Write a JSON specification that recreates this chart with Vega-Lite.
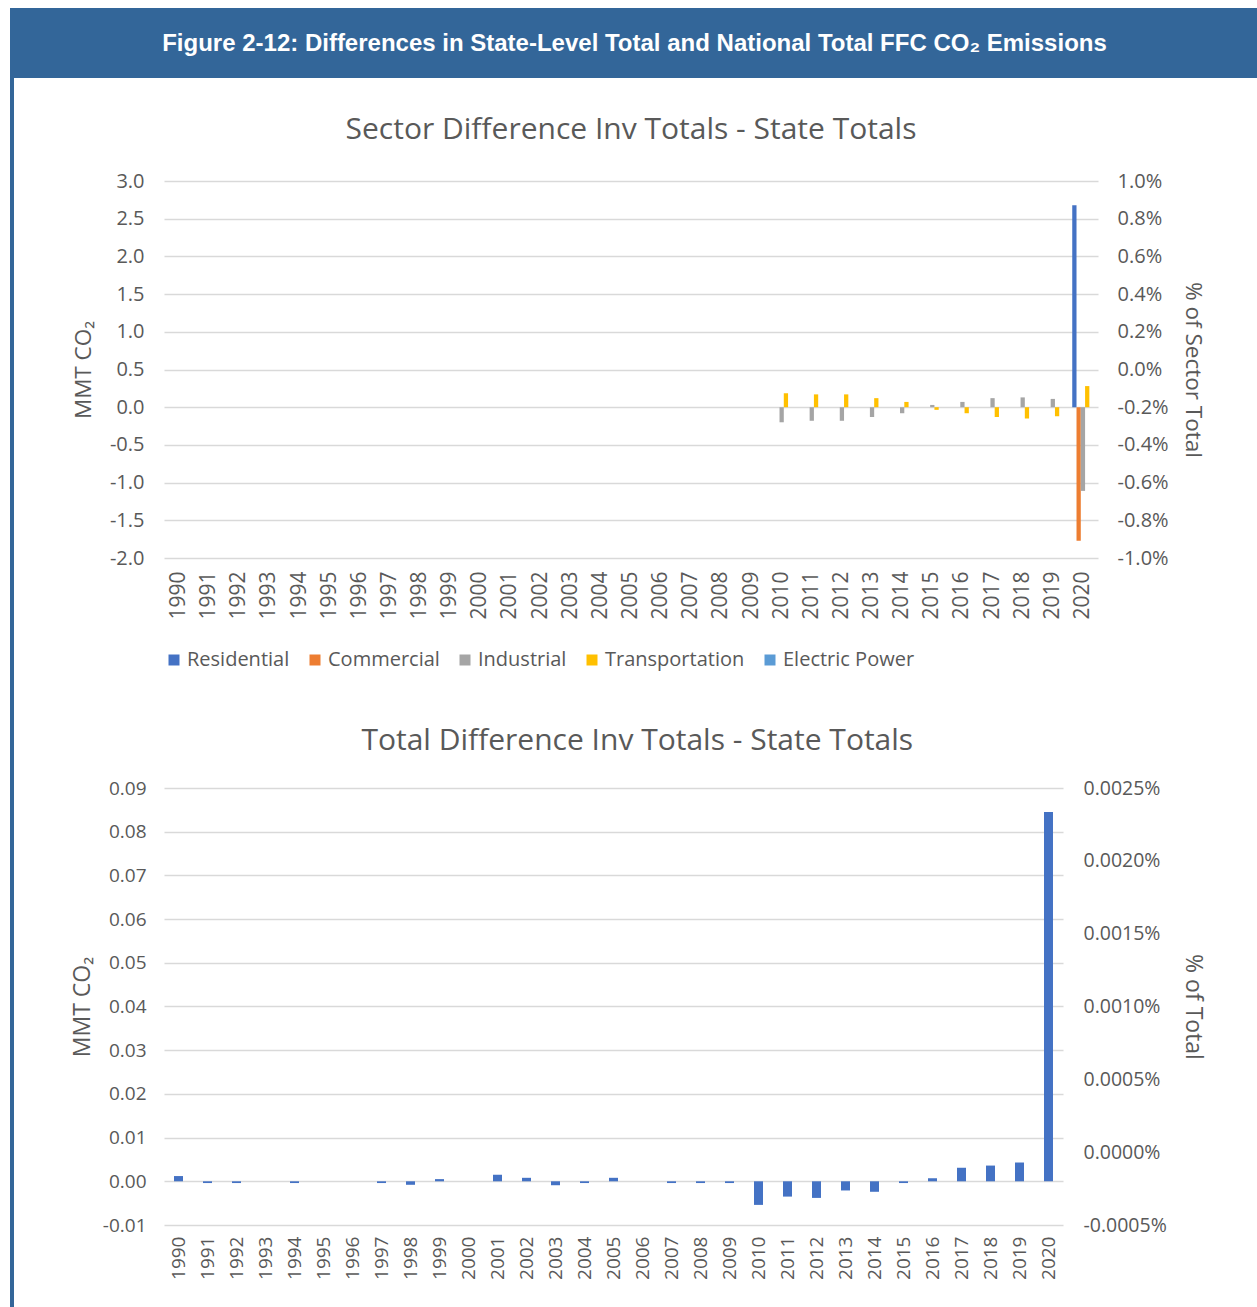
{
  "$schema": "https://vega.github.io/schema/vega-lite/v6.json",
  "padding": {"left": 10, "top": 8, "right": 0, "bottom": 0},
  "background": "white",
  "datasets": {
    "banner": [{"t": "Figure 2-12: Differences in State-Level Total and National Total FFC CO₂ Emissions"}],
    "sector": [
      {"year": 2010, "sector": "Industrial", "value": -0.20},
      {"year": 2010, "sector": "Transportation", "value": 0.185},
      {"year": 2011, "sector": "Industrial", "value": -0.18},
      {"year": 2011, "sector": "Transportation", "value": 0.17},
      {"year": 2012, "sector": "Industrial", "value": -0.18},
      {"year": 2012, "sector": "Transportation", "value": 0.17},
      {"year": 2013, "sector": "Industrial", "value": -0.13},
      {"year": 2013, "sector": "Transportation", "value": 0.12},
      {"year": 2014, "sector": "Industrial", "value": -0.08},
      {"year": 2014, "sector": "Transportation", "value": 0.07},
      {"year": 2015, "sector": "Industrial", "value": 0.03},
      {"year": 2015, "sector": "Transportation", "value": -0.035},
      {"year": 2016, "sector": "Industrial", "value": 0.07},
      {"year": 2016, "sector": "Transportation", "value": -0.08},
      {"year": 2017, "sector": "Industrial", "value": 0.12},
      {"year": 2017, "sector": "Transportation", "value": -0.13},
      {"year": 2018, "sector": "Industrial", "value": 0.13},
      {"year": 2018, "sector": "Transportation", "value": -0.15},
      {"year": 2019, "sector": "Industrial", "value": 0.11},
      {"year": 2019, "sector": "Transportation", "value": -0.12},
      {"year": 2020, "sector": "Residential", "value": 2.68},
      {"year": 2020, "sector": "Commercial", "value": -1.77},
      {"year": 2020, "sector": "Industrial", "value": -1.11},
      {"year": 2020, "sector": "Transportation", "value": 0.28},
      {"year": 2020, "sector": "Electric Power", "value": 0}
    ],
    "total": [
      {"year": 1990, "value": 0.0012}, {"year": 1991, "value": -0.0004}, {"year": 1992, "value": -0.0004},
      {"year": 1993, "value": 0}, {"year": 1994, "value": -0.0004}, {"year": 1995, "value": 0},
      {"year": 1996, "value": 0}, {"year": 1997, "value": -0.0004}, {"year": 1998, "value": -0.0008},
      {"year": 1999, "value": 0.0005}, {"year": 2000, "value": 0}, {"year": 2001, "value": 0.0015},
      {"year": 2002, "value": 0.0008}, {"year": 2003, "value": -0.0009}, {"year": 2004, "value": -0.0004},
      {"year": 2005, "value": 0.0008}, {"year": 2006, "value": 0}, {"year": 2007, "value": -0.0004},
      {"year": 2008, "value": -0.0004}, {"year": 2009, "value": -0.0004}, {"year": 2010, "value": -0.0054},
      {"year": 2011, "value": -0.0035}, {"year": 2012, "value": -0.0038}, {"year": 2013, "value": -0.0021},
      {"year": 2014, "value": -0.0024}, {"year": 2015, "value": -0.0004}, {"year": 2016, "value": 0.0007},
      {"year": 2017, "value": 0.0031}, {"year": 2018, "value": 0.0036}, {"year": 2019, "value": 0.0043},
      {"year": 2020, "value": 0.0845}
    ]
  },
  "spacing": 0,
  "resolve": {"scale": {"color": "independent"}, "legend": {"color": "independent"}},
  "hconcat": [
    {
      "width": 4,
      "height": 1299,
      "view": {"fill": "#336699", "stroke": null},
      "data": {"name": "banner"},
      "mark": {"type": "text", "text": " "},
      "encoding": {}
    },
    {
      "spacing": 37,
      "resolve": {"scale": {"color": "independent"}, "legend": {"color": "independent"}},
      "vconcat": [
        {
          "width": 1243,
          "height": 70,
          "view": {"fill": "#336699", "stroke": null},
          "data": {"name": "banner"},
          "mark": {"type": "text", "font": "Liberation Sans", "fontWeight": "bold", "fontSize": 24, "color": "white", "align": "center", "baseline": "middle", "dx": -1, "dy": 1},
          "encoding": {"text": {"field": "t", "type": "nominal"}}
        },
        {
          "spacing": 56,
          "resolve": {"scale": {"color": "independent"}, "legend": {"color": "independent"}},
          "hconcat": [
            {
              "width": 1,
              "height": 1,
              "view": {"stroke": null},
              "data": {"name": "banner"},
              "mark": {"type": "text", "text": " "},
              "encoding": {}
            },
            {
              "spacing": 56,
              "resolve": {"scale": {"color": "independent"}, "legend": {"color": "independent"}},
              "vconcat": [
                {
                  "width": 934,
                  "height": 377,
                  "title": {"text": "Sector Difference Inv Totals - State Totals", "font": "Open Sans", "fontSize": 30, "fontWeight": "normal", "color": "#595959", "offset": 26, "frame": "group"},
                  "data": {"name": "sector"},
                  "layer": [
                    {
                      "mark": {"type": "bar"},
                      "encoding": {
                        "x": {
                          "field": "year", "type": "ordinal",
                          "scale": {"domain": [1990,1991,1992,1993,1994,1995,1996,1997,1998,1999,2000,2001,2002,2003,2004,2005,2006,2007,2008,2009,2010,2011,2012,2013,2014,2015,2016,2017,2018,2019,2020], "paddingInner": 0.29, "paddingOuter": 0.145},
                          "axis": {"title": null, "labelAngle": -90, "labelFontSize": 21, "labelPadding": 13, "grid": false}
                        },
                        "xOffset": {
                          "field": "sector", "type": "nominal",
                          "scale": {"domain": ["Residential", "Commercial", "Industrial", "Transportation", "Electric Power"], "paddingInner": 0, "paddingOuter": 0}
                        },
                        "y": {
                          "field": "value", "type": "quantitative",
                          "scale": {"domain": [-2, 3], "nice": false},
                          "axis": {"title": "MMT CO₂", "titleFontSize": 22.5, "titlePadding": 14, "labelFontSize": 20, "labelPadding": 20, "values": [-2, -1.5, -1, -0.5, 0, 0.5, 1, 1.5, 2, 2.5, 3], "labelExpr": "replace(format(datum.value, '.1f'), '−', '-')", "grid": true}
                        },
                        "color": {
                          "field": "sector", "type": "nominal",
                          "scale": {"domain": ["Residential", "Commercial", "Industrial", "Transportation", "Electric Power"], "range": ["#4472C4", "#ED7D31", "#A5A5A5", "#FFC000", "#5B9BD5"]},
                          "legend": {"orient": "bottom", "direction": "horizontal", "title": null, "symbolType": "square", "symbolSize": 121, "symbolStrokeWidth": 0, "labelFontSize": 20, "labelColor": "#595959", "labelFont": "Open Sans", "columnPadding": 15, "labelOffset": 3, "offset": 30, "padding": 0}
                        }
                      }
                    },
                    {
                      "mark": {"type": "rule", "opacity": 0},
                      "encoding": {
                        "y": {
                          "datum": 0, "type": "quantitative",
                          "scale": {"domain": [-0.01, 0.01], "nice": false},
                          "axis": {"orient": "right", "title": "% of Sector Total", "titleFontSize": 22.5, "titlePadding": 12, "labelFontSize": 20, "labelPadding": 19, "values": [-0.01, -0.008, -0.006, -0.004, -0.002, 0, 0.002, 0.004, 0.006, 0.008, 0.01], "labelExpr": "replace(format(datum.value, '.1%'), '−', '-')", "grid": false}
                        }
                      }
                    }
                  ],
                  "resolve": {"scale": {"y": "independent"}}
                },
                {
                  "width": 899,
                  "height": 437,
                  "title": {"text": "Total Difference Inv Totals - State Totals", "font": "Open Sans", "fontSize": 30, "fontWeight": "normal", "color": "#595959", "offset": 22, "frame": "bounds"},
                  "data": {"name": "total"},
                  "layer": [
                    {
                      "mark": {"type": "bar", "color": "#4472C4"},
                      "encoding": {
                        "x": {
                          "field": "year", "type": "ordinal",
                          "scale": {"paddingInner": 0.69, "paddingOuter": 0.345},
                          "axis": {"title": null, "labelAngle": -90, "labelFontSize": 19, "labelPadding": 11, "grid": false}
                        },
                        "y": {
                          "field": "value", "type": "quantitative",
                          "scale": {"domain": [-0.01, 0.09], "nice": false},
                          "axis": {"title": "MMT CO₂", "titleFontSize": 23, "titlePadding": 8, "labelFontSize": 19, "labelPadding": 18, "values": [-0.01, 0, 0.01, 0.02, 0.03, 0.04, 0.05, 0.06, 0.07, 0.08, 0.09], "labelExpr": "replace(format(datum.value, '.2f'), '−', '-')", "grid": true}
                        }
                      }
                    },
                    {
                      "mark": {"type": "rule", "opacity": 0},
                      "encoding": {
                        "y": {
                          "datum": 0, "type": "quantitative",
                          "scale": {"domain": [-0.000005, 0.000025], "nice": false},
                          "axis": {"orient": "right", "title": "% of Total", "titleFontSize": 23, "titlePadding": 14, "labelFontSize": 19.5, "labelPadding": 20, "values": [-0.000005, 0, 0.000005, 0.00001, 0.000015, 0.00002, 0.000025], "labelExpr": "replace(format(datum.value, '.4%'), '−', '-')", "grid": false}
                        }
                      }
                    }
                  ],
                  "resolve": {"scale": {"y": "independent"}}
                }
              ]
            }
          ]
        }
      ]
    }
  ],
  "config": {
    "view": {"stroke": null},
    "font": "Open Sans",
    "axis": {"labelColor": "#595959", "titleColor": "#595959", "labelFont": "Open Sans", "titleFont": "Open Sans", "titleFontWeight": "normal", "gridColor": "#d9d9d9", "gridWidth": 1.3, "domain": false, "ticks": false}
  }
}
